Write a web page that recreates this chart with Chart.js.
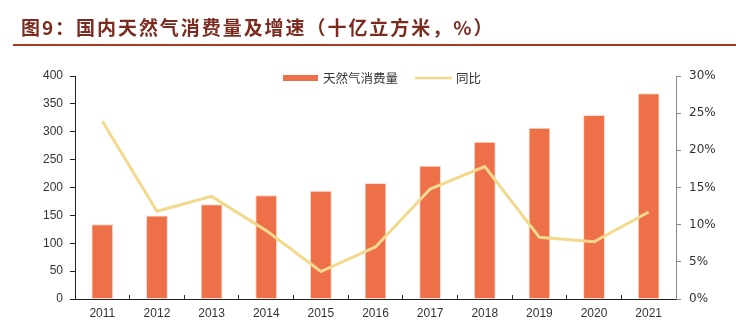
<!DOCTYPE html>
<html>
<head>
<meta charset="utf-8">
<script src="https://cdn.jsdelivr.net/npm/chart.js@4.4.0/dist/chart.umd.min.js"></script>
<style>
  html, body { margin: 0; padding: 0; background: #fff; }
  #wrap { position: relative; width: 736px; height: 330px; }
  #title {
    position: absolute; left: 21px; top: 13px;
    font: bold 19px "Noto Sans CJK SC", sans-serif;
    letter-spacing: 1.95px; color: #7b2b1f; white-space: nowrap;
  }
  #rule { position: absolute; left: 13px; right: 0; top: 44px; height: 2px; background: #a33c24; }
  canvas { position: absolute; left: 0; top: 0; }
</style>
</head>
<body>
<div id="wrap">
  <canvas id="chart" width="736" height="330"></canvas>
  <div id="title">图9：国内天然气消费量及增速（十亿立方米，%）</div>
  <div id="rule"></div>
</div>
<script>
// data
const years = ["2011", "2012", "2013", "2014", "2015", "2016", "2017", "2018", "2019", "2020", "2021"];
const consumption = [134, 150, 170, 186, 194, 208, 239, 282, 307, 330, 369];
const growth = [23.9, 11.8, 13.8, 9.2, 3.7, 7.0, 14.8, 17.8, 8.3, 7.7, 11.7];
const seriesNames = ["天然气消费量", "同比"];

const barColor = "#ee7049";
const lineColor = "#f3d98c";
const textColor = "#333";

// legend sits inside the plot, near the top
const legendPlugin = {
  id: "innerLegend",
  afterDraw(chart) {
    const ctx = chart.ctx;
    const y = 78;
    ctx.save();
    ctx.font = "12.5px 'Noto Sans CJK SC', sans-serif";
    ctx.textBaseline = "middle";
    ctx.fillStyle = barColor;
    ctx.fillRect(283, y - 3, 35, 6);
    ctx.fillStyle = textColor;
    ctx.fillText(seriesNames[0], 323, y);
    ctx.strokeStyle = lineColor;
    ctx.lineWidth = 2.5;
    ctx.beginPath();
    ctx.moveTo(415, y);
    ctx.lineTo(452, y);
    ctx.stroke();
    ctx.fillText(seriesNames[1], 456, y);
    ctx.restore();
  }
};

new Chart(document.getElementById("chart"), {
  data: {
    labels: years,
    datasets: [
      {
        type: "line",
        label: seriesNames[1],
        data: growth,
        yAxisID: "y1",
        borderColor: lineColor,
        borderWidth: 3,
        pointRadius: 0,
        tension: 0,
        order: 0,
      },
      {
        type: "bar",
        label: seriesNames[0],
        data: consumption,
        yAxisID: "y",
        backgroundColor: barColor,
        borderColor: "rgba(255,215,195,0.9)",
        borderWidth: 1,
        barPercentage: 0.4,
        categoryPercentage: 1,
        order: 1,
      },
    ],
  },
  options: {
    responsive: false,
    animation: false,
    layout: { padding: { top: 76, left: 0, right: 0, bottom: 0 } },
    plugins: { legend: { display: false }, tooltip: { enabled: false } },
    scales: {
      x: {
        offset: true,
        grid: { offset: true, drawOnChartArea: false, tickLength: -4, color: "#333" },
        border: { color: "#222", width: 1 },
        ticks: { color: textColor, padding: 11, font: { family: "Liberation Sans", size: 12 } },
        afterFit: (s) => { s.height = 31; },
      },
      y: {
        position: "left",
        min: 0,
        max: 400,
        ticks: { stepSize: 50, color: textColor, padding: 7, font: { family: "Liberation Sans", size: 12 } },
        grid: { drawOnChartArea: false, tickLength: 5, color: "#222" },
        border: { color: "#222", width: 1 },
        afterFit: (s) => { s.width = 75; },
      },
      y1: {
        position: "right",
        min: 0,
        max: 30,
        ticks: {
          stepSize: 5,
          color: textColor,
          padding: 8,
          font: { family: "DejaVu Sans", size: 12 },
          callback: (v) => v + "%",
        },
        grid: { drawOnChartArea: false, tickLength: 5, color: "#888" },
        border: { color: "#888", width: 1 },
        afterFit: (s) => { s.width = 60; },
      },
    },
  },
  plugins: [legendPlugin],
});
</script>
</body>
</html>
